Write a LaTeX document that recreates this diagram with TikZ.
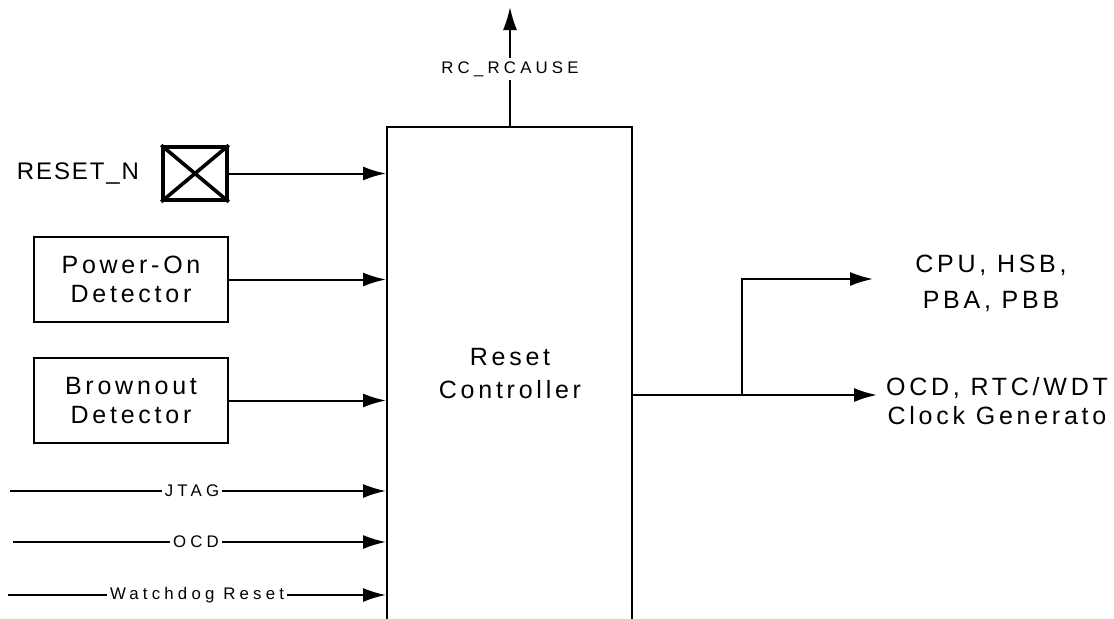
\documentclass[tikz,border=0pt]{standalone}
\usepackage{fontspec}
\setmainfont{Liberation Sans}
\newfontfamily\blockfont[LetterSpace=15]{Liberation Sans}
\newfontfamily\padfont[LetterSpace=8]{Liberation Sans}
\newfontfamily\sigfont[LetterSpace=25]{Liberation Sans}
\usetikzlibrary{arrows.meta,positioning}

\begin{document}
\begin{tikzpicture}[
    x=0.5pt, y=-0.5pt,
    line width=1pt,
    arr/.style={-{Latex[length=11.5pt,width=7pt]}},
    block/.style={draw, minimum width=97pt, minimum height=42.5pt, align=center,
        font=\blockfont\fontsize{12.5}{14.5}\selectfont},
    biglbl/.style={align=center, inner sep=0pt, font=\blockfont\fontsize{12.5}{18}\selectfont},
    siglbl/.style={fill=white, inner xsep=1pt, inner ysep=1pt, font=\sigfont\fontsize{8.4}{10}\selectfont},
    padbox/.style={draw, line width=1.8pt, minimum width=32pt, minimum height=26.5pt}
]
    \clip (0,0) rectangle (1114,618);

    % reset controller (bottom edge runs out of the picture)
    \node[draw, minimum width=122.5pt, minimum height=247pt] (rc) at (509.5,374) {};
    \node[biglbl, font=\blockfont\fontsize{12.5}{16.5}\selectfont] (rclbl) at (510,374) {Reset\\Controller};

    % reset pin
    \node[padbox] (pad) at (195,173.5) {};
    \draw[line width=1.8pt] (pad.north west) -- (pad.south east);
    \draw[line width=1.8pt] (pad.south west) -- (pad.north east);
    \node[font=\padfont\fontsize{12}{14}\selectfont] (rstn) at (78,173) {RESET\_N};
    \draw[arr] (pad.east) -- (pad.east -| rc.west);

    % detectors
    \node[block] (por) at (131,279.5) {Power-On\\Detector};
    \node[block] (bod) at (131,400.5) {Brownout\\Detector};
    \draw[arr] (por.east) -- (por.east -| rc.west);
    \draw[arr] (bod.east) -- (bod.east -| rc.west);

    % other reset sources
    \coordinate (jtagin) at (10,491);
    \coordinate (ocdin) at (13,542);
    \coordinate (wdtin) at (8,595);
    \node[siglbl] (jtag) at (192,491) {JTAG};
    \node[siglbl] (ocd) at (196,542) {OCD};
    \node[siglbl] (wdt) at (197,595) {Watchdog Reset};
    \draw (jtagin) -- (jtag);
    \draw (ocdin) -- (ocd);
    \draw (wdtin) -- (wdt);
    \draw[arr] (jtag) -- (jtag -| rc.west);
    \draw[arr] (ocd) -- (ocd -| rc.west);
    \draw[arr] (wdt) -- (wdt -| rc.west);

    % reset cause
    \coordinate (causeout) at (510,7);
    \node[siglbl] (cause) at (510,69) {RC\_RCAUSE};
    \draw (rc.north -| cause) -- (cause);
    \draw[arr] (cause) -- (causeout);

    % outputs
    \coordinate (split) at (742,395);
    \coordinate (cpuend) at (873,279);
    \coordinate (ocdend) at (877,395);
    \node[biglbl] (cpu) at (991,283) {CPU, HSB,\\PBA, PBB};
    \node[biglbl, font=\blockfont\fontsize{12.5}{14.5}\selectfont] (clk) at (997,401) {OCD, RTC/WDT\\Clock Generato};
    \draw[arr] (rc.east |- split) -- (ocdend);
    \draw[arr] (split) |- (cpuend);
\end{tikzpicture}
\end{document}
